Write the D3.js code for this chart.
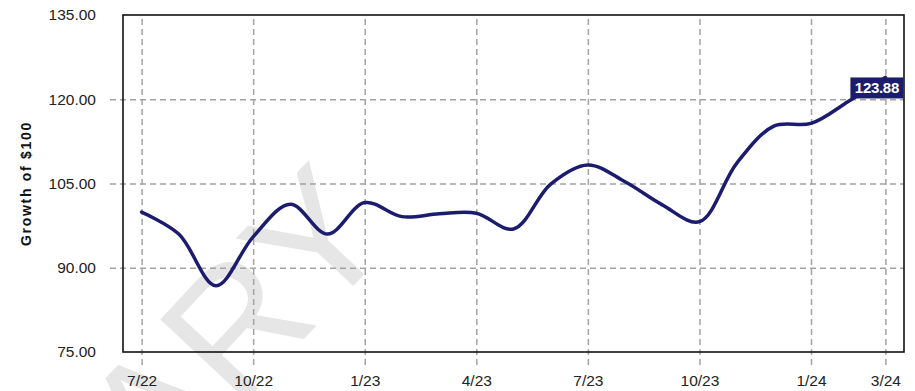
<!DOCTYPE html>
<html>
<head>
<meta charset="utf-8">
<script src="https://cdn.jsdelivr.net/npm/d3@7"></script>
<style>
  html, body { margin: 0; padding: 0; background: #fff; }
  svg { display: block; font-family: "Liberation Sans", Arial, Helvetica, sans-serif; }
</style>
</head>
<body>
<svg id="chart" width="915" height="391"></svg>
<script>
// Monthly growth of $100, July 2022 through March 2024
const months = ["7/22","8/22","9/22","10/22","11/22","12/22","1/23","2/23","3/23","4/23","5/23","6/23",
                "7/23","8/23","9/23","10/23","11/23","12/23","1/24","2/24","3/24"];
const values = [99.9, 96.0, 86.8, 95.5, 101.3, 96.0, 101.6, 99.1, 99.6, 99.7, 96.9, 104.9,
                108.3, 105.3, 101.2, 98.2, 108.6, 115.2, 115.7, 119.6, 123.88];
const xTickLabels = ["7/22","10/22","1/23","4/23","7/23","10/23","1/24","3/24"];
const yTicks = [75, 90, 105, 120, 135];
const watermarkText = "PRELIMINARY";
const yTitle = "Growth of $100";

const svg = d3.select("#chart");
const plotL = 123, plotR = 904, plotT = 15, plotB = 352;
const navy = "#1c1c6e";

const x = d3.scaleLinear().domain([-0.5, months.length - 0.5]).range([plotL, plotR]);
const y = d3.scaleLinear().domain([75, 135]).range([plotB, plotT]);

// Watermark behind the plot
svg.append("text")
  .attr("transform", "translate(398,238) rotate(-47)")
  .attr("text-anchor", "end")
  .attr("font-size", 172)
  .attr("fill", "#e6e6e6")
  .text(watermarkText);

// Gridlines
const gridColor = "#a3a3a3";
const xTickIdx = xTickLabels.map(l => months.indexOf(l));

const xAxis = d3.axisBottom(x)
  .tickValues(xTickIdx)
  .tickFormat(d => months[d])
  .tickSize(-(plotB - plotT) - 13)
  .tickPadding(10);
const gx = svg.append("g").attr("transform", `translate(0,${plotB + 13})`).call(xAxis);
gx.select(".domain").remove();
gx.selectAll(".tick line")
  .attr("stroke", gridColor).attr("stroke-width", 1.5).attr("stroke-dasharray", "6,4");
gx.selectAll(".tick text")
  .attr("font-size", 15.5).attr("fill", "#222").attr("font-family", "Liberation Sans, Arial, sans-serif");

const yAxis = d3.axisLeft(y)
  .tickValues(yTicks)
  .tickFormat(d3.format(".2f"))
  .tickSize(-(plotR - plotL) - 13)
  .tickPadding(14);
const gy = svg.append("g").attr("transform", `translate(${plotL - 13},0)`).call(yAxis);
gy.select(".domain").remove();
gy.selectAll(".tick line")
  .attr("stroke", gridColor).attr("stroke-width", 1.5).attr("stroke-dasharray", "6,4")
  .attr("display", d => (d === 75 || d === 135) ? "none" : null);
gy.selectAll(".tick text")
  .attr("font-size", 15.5).attr("fill", "#222").attr("font-family", "Liberation Sans, Arial, sans-serif");

// Plot frame
svg.append("rect")
  .attr("x", plotL).attr("y", plotT)
  .attr("width", plotR - plotL).attr("height", plotB - plotT)
  .attr("fill", "none").attr("stroke", "#111").attr("stroke-width", 1.6);

// Y axis title
svg.append("text")
  .attr("transform", `translate(31,${(plotT + plotB) / 2}) rotate(-90)`)
  .attr("text-anchor", "middle")
  .attr("font-size", 14)
  .attr("font-weight", "bold")
  .attr("letter-spacing", 1.7)
  .attr("fill", "#111")
  .text(yTitle);

// Series line
const line = d3.line()
  .x((d, i) => x(i))
  .y(d => y(d))
  .curve(d3.curveCatmullRom.alpha(0.5));

svg.append("path")
  .datum(values)
  .attr("d", line)
  .attr("fill", "none")
  .attr("stroke", navy)
  .attr("stroke-width", 3.5)
  .attr("stroke-linejoin", "round")
  .attr("stroke-linecap", "round");

// End value label
const lastIdx = values.length - 1;
const lastVal = values[lastIdx];
const lx = x(lastIdx), ly = y(lastVal);
const lbl = svg.append("g").attr("transform", `translate(${lx - 35},${ly})`);
lbl.append("rect")
  .attr("width", 53).attr("height", 21)
  .attr("fill", navy);
lbl.append("text")
  .attr("x", 26.5).attr("y", 16)
  .attr("text-anchor", "middle")
  .attr("font-size", 15)
  .attr("font-weight", "bold")
  .attr("fill", "#fff")
  .attr("letter-spacing", -0.3)
  .text(d3.format(".2f")(lastVal));
</script>
</body>
</html>
